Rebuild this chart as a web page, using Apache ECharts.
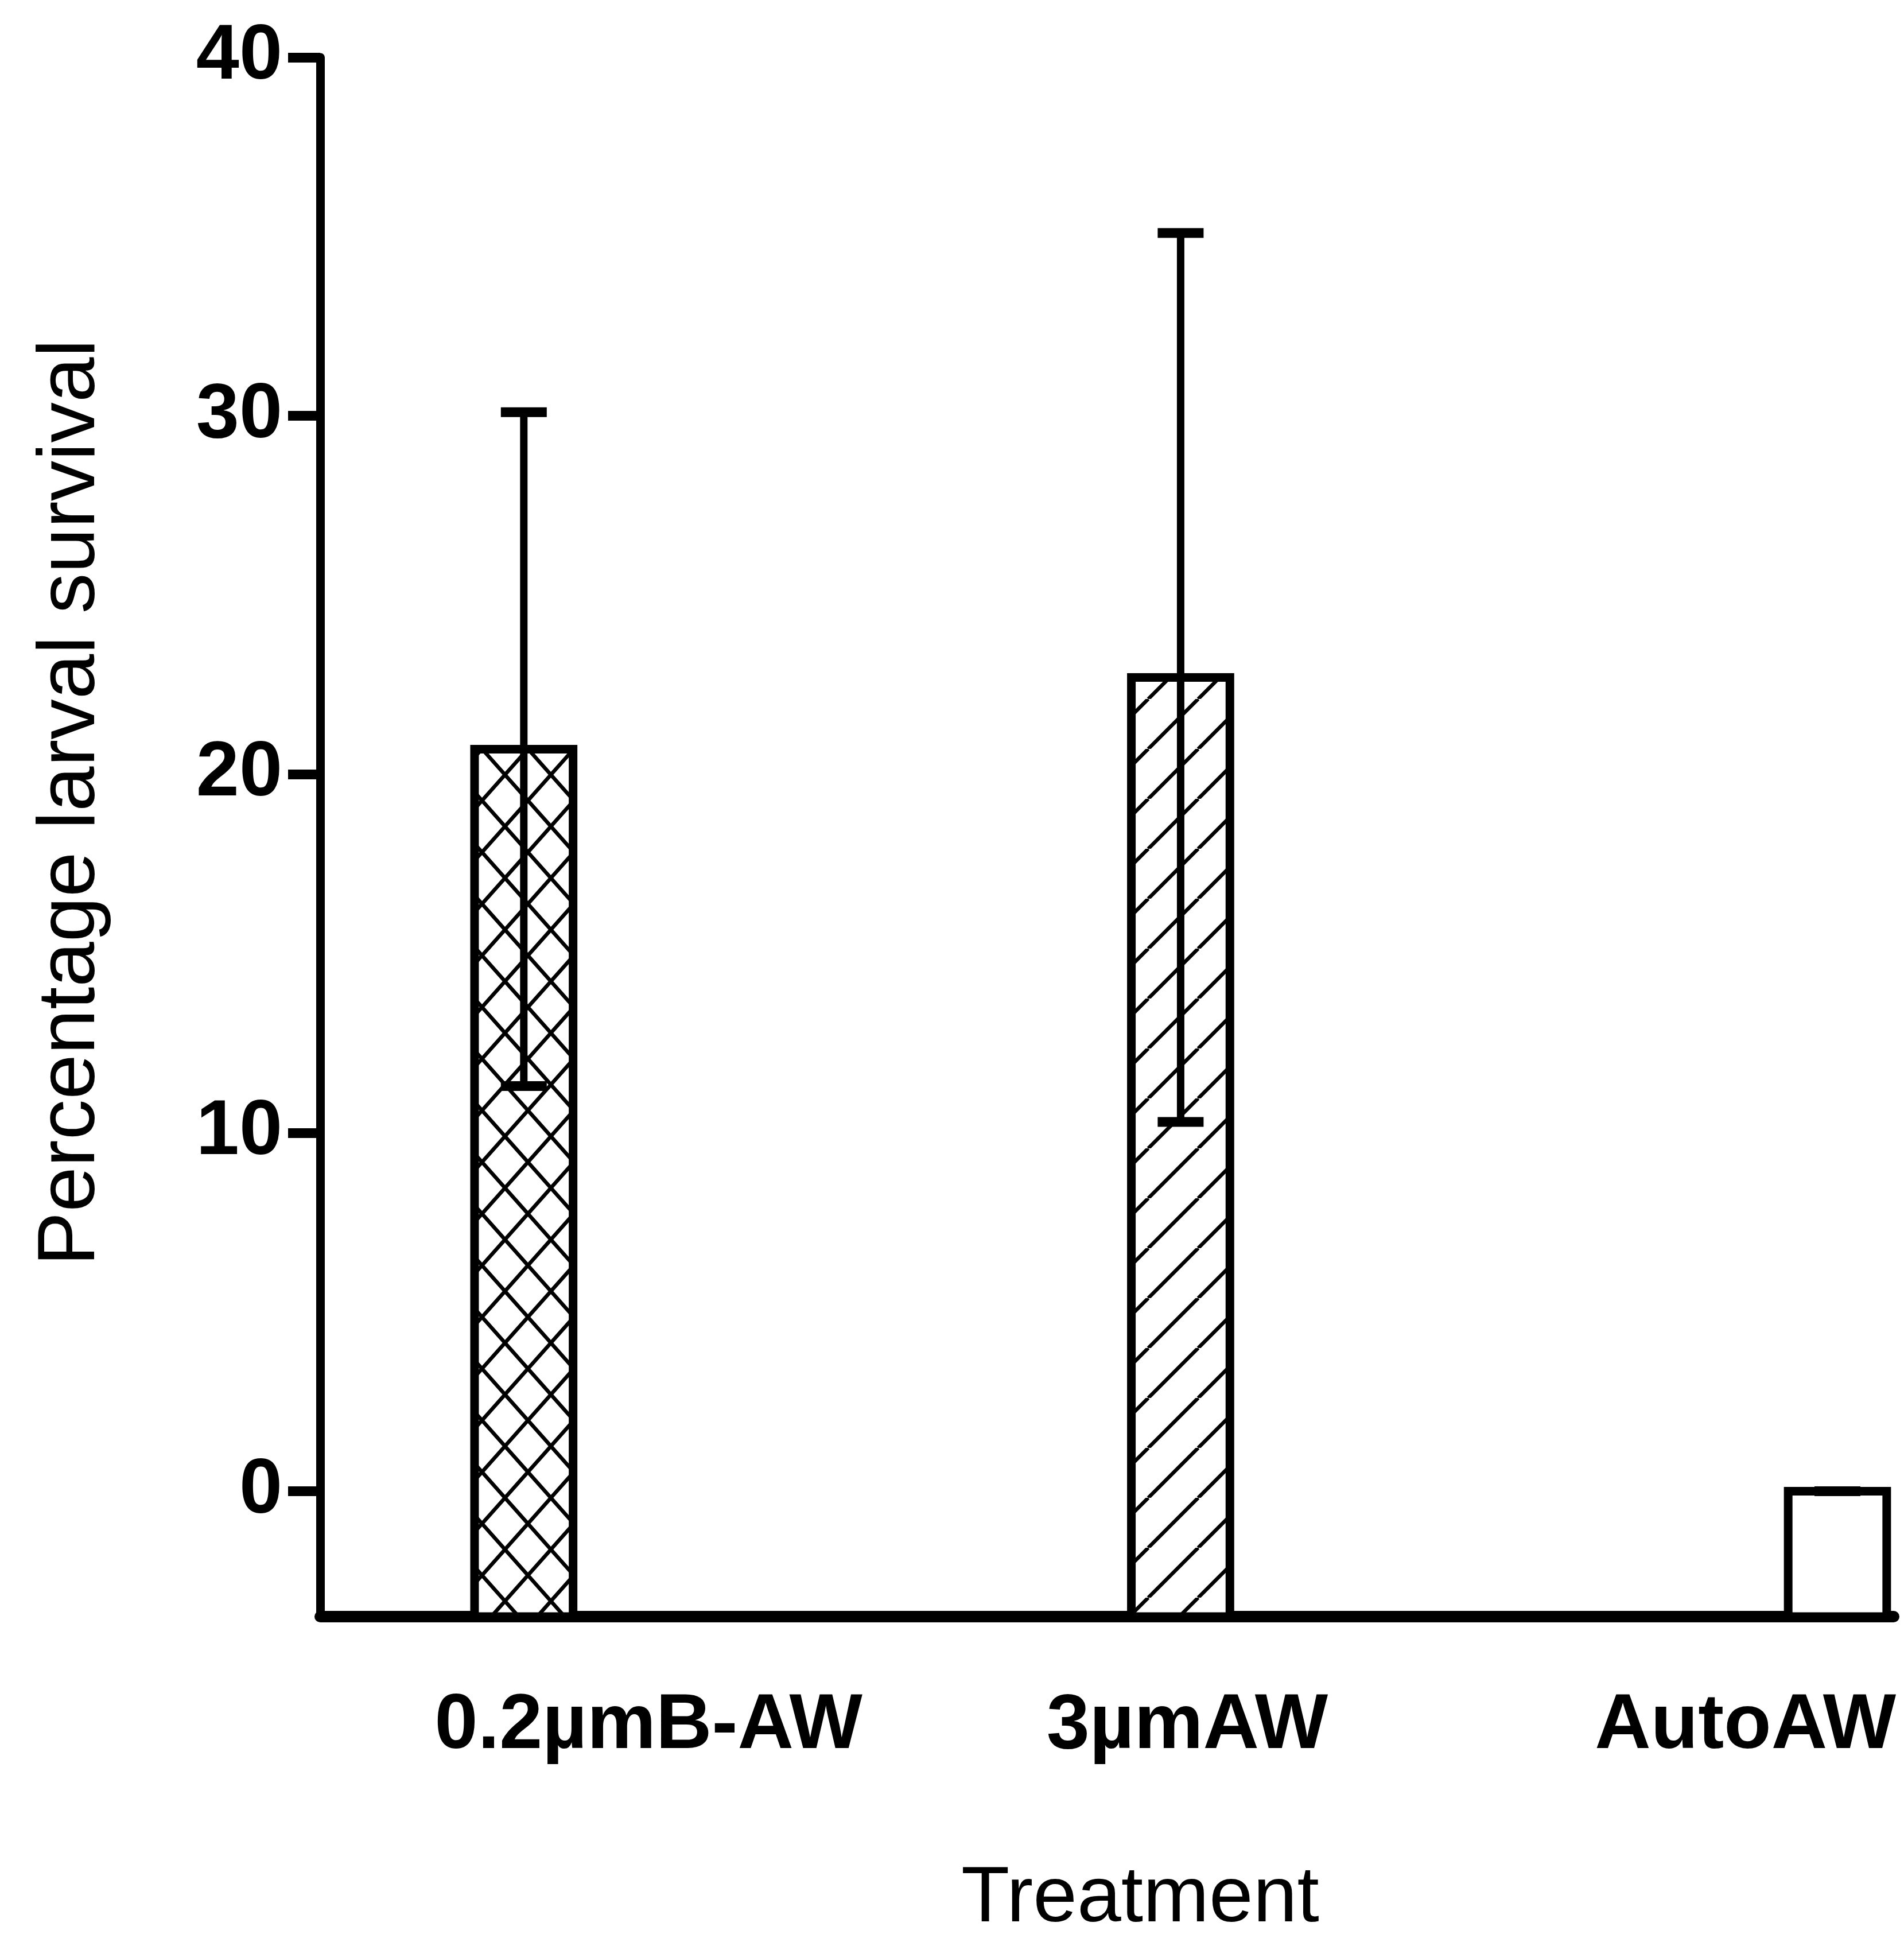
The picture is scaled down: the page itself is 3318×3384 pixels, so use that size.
<!DOCTYPE html>
<html>
<head>
<meta charset="utf-8">
<script src="https://cdn.jsdelivr.net/npm/echarts@6/dist/echarts.min.js"></script>
<style>
html,body{margin:0;padding:0;background:#fff;}
#chart{width:3318px;height:3384px;}
</style>
</head>
<body>
<div id="chart"></div>
<script>
// ---- data ----
const categories = ['0.2\u00b5mB-AW', '3\u00b5mAW', 'AutoAW'];
const survivalMean = [20.7, 22.7, 0];
const survivalErr = [9.4, 12.4, 0];
const yTicks = [0, 10, 20, 30, 40];
// where each category label sits along the x axis (in category-index units)
const labelAt = [1.19, 2.01, 2.86];

// ---- styles ----
const Y_MIN = -3.5, Y_MAX = 40;
const X_MIN = 0.69, X_MAX = 3.0856;
const BAR_W = 0.15;
const FONT = '"Liberation Sans", Arial, Helvetica, sans-serif';

function makePattern(kind) {
  const c = document.createElement('canvas');
  const w = kind === 'cross' ? 80 : 87;
  const h = kind === 'cross' ? 90 : 87;
  c.width = w; c.height = h;
  const ctx = c.getContext('2d');
  ctx.fillStyle = '#fff';
  ctx.fillRect(0, 0, w, h);
  ctx.strokeStyle = '#000';
  ctx.lineWidth = 6.5;
  ctx.beginPath();
  for (let k = -1; k <= 1; k++) {
    if (kind === 'cross') {
      ctx.moveTo(k * w, 0); ctx.lineTo(k * w + w, h);
      ctx.moveTo(k * w + w, 0); ctx.lineTo(k * w, h);
    } else if (kind === 'diag') {
      ctx.moveTo(k * w, h); ctx.lineTo(k * w + w, 0);
    }
  }
  ctx.stroke();
  return { image: c, repeat: 'repeat' };
}
const fills = [makePattern('cross'), makePattern('diag'), '#fff'];

const seriesData = categories.map((c, i) => [i + 1, survivalMean[i], survivalErr[i]]);

const chart = echarts.init(document.getElementById('chart'), null, { renderer: 'canvas' });
chart.setOption({
  backgroundColor: '#fff',
  animation: false,
  grid: { left: 558, right: 18, top: 100, bottom: 545, containLabel: false },
  xAxis: {
    type: 'value',
    min: X_MIN, max: X_MAX,
    splitLine: { show: false },
    axisTick: { show: false },
    axisLine: { show: true, onZero: false, lineStyle: { color: '#000', width: 20 } },
    axisLabel: {
      customValues: labelAt,
      formatter: function (v) {
        for (let i = 0; i < labelAt.length; i++) {
          if (Math.abs(labelAt[i] - v) < 1e-6) return categories[i];
        }
        return '';
      },
      margin: 124,
      color: '#000',
      fontFamily: FONT,
      fontWeight: 'bold',
      fontSize: 135
    },
    name: 'Treatment',
    nameLocation: 'middle',
    nameGap: 424,
    nameTextStyle: {
      color: '#000', fontFamily: FONT, fontSize: 138, fontWeight: 'normal',
      padding: [0, 0, 0, 116]
    }
  },
  yAxis: {
    type: 'value',
    min: Y_MIN, max: Y_MAX,
    splitLine: { show: false },
    axisLine: { show: true, onZero: false, lineStyle: { color: '#000', width: 15 } },
    axisTick: {
      show: true, customValues: yTicks, length: 56, inside: false,
      lineStyle: { color: '#000', width: 17 }
    },
    axisLabel: {
      customValues: yTicks,
      margin: 66,
      color: '#000',
      fontFamily: FONT,
      fontWeight: 'bold',
      fontSize: 135
    },
    name: 'Percentage larval survival',
    nameLocation: 'middle',
    nameGap: 362,
    nameTextStyle: {
      color: '#000', fontFamily: FONT, fontSize: 141, fontWeight: 'normal',
      padding: [0, 0, 0, 120]
    }
  },
  series: [{
    type: 'custom',
    data: seriesData,
    clip: false,
    renderItem: function (params, api) {
      const x = api.value(0), v = api.value(1), e = api.value(2);
      const idx = params.dataIndex;
      const base = api.coord([x, Y_MIN]);
      const top = api.coord([x, v]);
      const w = api.size([BAR_W, 0])[0];
      const lo = api.coord([x, v - e]);
      const hi = api.coord([x, v + e]);
      const capW = 80;
      const children = [
        {
          type: 'rect',
          shape: { x: top[0] - w / 2, y: top[1], width: w, height: base[1] - top[1] },
          style: { fill: fills[idx], stroke: '#000', lineWidth: 15 }
        }
      ];
      if (e > 0) {
        children.push({
          type: 'line',
          shape: { x1: lo[0], y1: lo[1], x2: hi[0], y2: hi[1] },
          style: { stroke: '#000', lineWidth: 13 }
        });
      }
      children.push({
        type: 'line',
        shape: { x1: hi[0] - capW / 2, y1: hi[1], x2: hi[0] + capW / 2, y2: hi[1] },
        style: { stroke: '#000', lineWidth: 17 }
      });
      children.push({
        type: 'line',
        shape: { x1: lo[0] - capW / 2, y1: lo[1], x2: lo[0] + capW / 2, y2: lo[1] },
        style: { stroke: '#000', lineWidth: 17 }
      });
      return { type: 'group', children: children };
    }
  }]
});
</script>
</body>
</html>
